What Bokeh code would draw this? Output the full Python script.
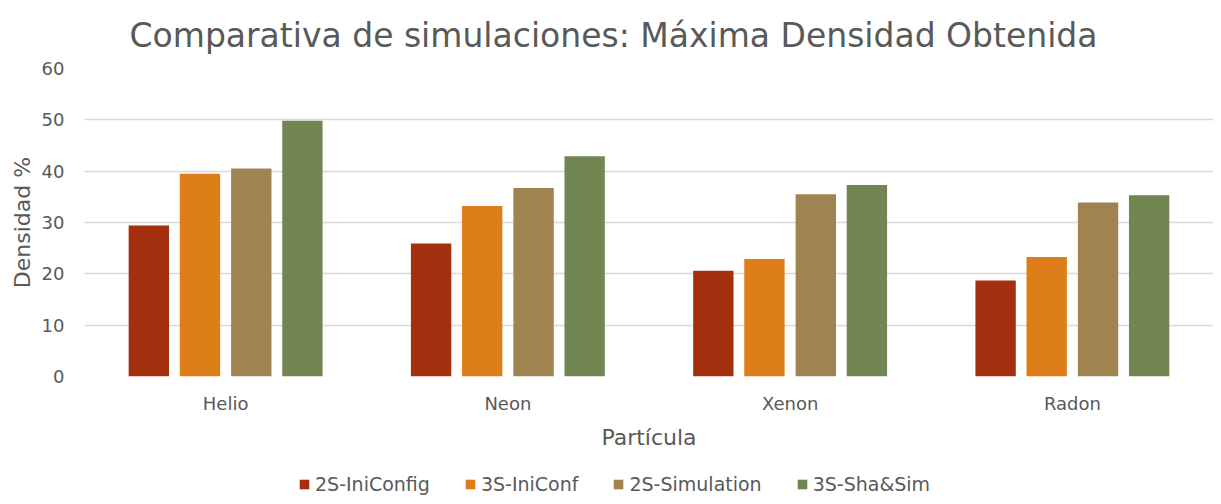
from bokeh.plotting import figure
from bokeh.models import ColumnDataSource, Legend, LegendItem
from bokeh.layouts import column
from bokeh.transform import dodge
from bokeh.embed import file_html
from bokeh.resources import INLINE

categories = ["Helio", "Neon", "Xenon", "Radon"]
series_names = ["2S-IniConfig", "3S-IniConf", "2S-Simulation", "3S-Sha&Sim"]
s_2s_iniconfig = [29.4, 25.9, 20.6, 18.7]
s_3s_iniconf = [39.5, 33.2, 22.9, 23.3]
s_2s_simulation = [40.5, 36.7, 35.5, 33.9]
s_3s_shasim = [49.8, 42.9, 37.3, 35.3]
colors = ["#A5300F", "#DE7E18", "#9F8351", "#728653"]
y_ticks = [0, 10, 20, 30, 40, 50, 60]

FONT = "DejaVu Sans"
TXT = "#595959"

src = ColumnDataSource(dict(cat=categories, a=s_2s_iniconfig, b=s_3s_iniconf,
                            c=s_2s_simulation, d=s_3s_shasim))

p = figure(width=1213, height=472, x_range=categories, y_range=(0, 60),
           output_backend="svg", toolbar_location=None,
           min_border_left=84, min_border_right=0, min_border_top=66, min_border_bottom=96)
p.outline_line_color = None
p.background_fill_color = "white"

p.title.text = "Comparativa de simulaciones: Máxima Densidad Obtenida"
p.title.align = "left"
p.title.offset = 45
p.title.text_font = FONT
p.title.text_font_size = "33px"
p.title.text_font_style = "normal"
p.title.text_color = TXT
p.title.standoff = 27

offsets = [-0.272, -0.091, 0.091, 0.272]
keys = ["a", "b", "c", "d"]
for key, off, col in zip(keys, offsets, colors):
    p.vbar(x=dodge("cat", off, range=p.x_range), top=key, width=0.143, source=src,
           fill_color=col, line_color=None)

p.xgrid.grid_line_color = None
p.ygrid.grid_line_color = "#D9D9D9"
p.ygrid.grid_line_width = 1.3
p.yaxis.ticker = y_ticks

for ax in (p.xaxis[0], p.yaxis[0]):
    ax.axis_line_color = None
    ax.major_tick_line_color = None
    ax.minor_tick_line_color = None
    ax.major_tick_out = 0
    ax.major_tick_in = 0
    ax.minor_tick_out = 0
    ax.minor_tick_in = 0
    ax.major_label_text_font = FONT
    ax.major_label_text_font_size = "18px"
    ax.major_label_text_color = TXT
    ax.axis_label_text_font = FONT
    ax.axis_label_text_font_size = "22px"
    ax.axis_label_text_font_style = "normal"
    ax.axis_label_text_color = TXT

p.yaxis.axis_label = "Densidad %"
p.yaxis.major_label_standoff = 20
p.yaxis.axis_label_standoff = 4
p.xaxis.axis_label = "Partícula"
p.xaxis.major_label_standoff = 16
p.xaxis.axis_label_standoff = 8
p.x_range.range_padding = 0

# legend in its own strip below the chart (same bars, drawn out of view)
pl = figure(width=1213, height=24, x_range=categories, y_range=(1000, 1001),
            output_backend="svg", toolbar_location=None,
            x_axis_type=None, y_axis_type=None,
            min_border_left=0, min_border_right=0, min_border_top=0, min_border_bottom=0)
pl.outline_line_color = None
pl.xgrid.grid_line_color = None
pl.ygrid.grid_line_color = None
leg_renderers = []
for key, off, col in zip(keys, offsets, colors):
    r = pl.vbar(x=dodge("cat", off, range=pl.x_range), top=key, width=0.143, source=src,
                fill_color=col, line_color=None)
    leg_renderers.append(r)

legend = Legend(items=[LegendItem(label=n, renderers=[r]) for n, r in zip(series_names, leg_renderers)],
                orientation="horizontal", location=(214, 1),
                label_text_font=FONT, label_text_font_size="19px", label_text_color=TXT,
                glyph_width=12, glyph_height=12, spacing=34, label_standoff=5,
                border_line_color=None, background_fill_alpha=0, margin=0, padding=0)
pl.add_layout(legend, "center")

layout = column(p, pl, spacing=0)
open("out.html", "w").write(file_html(layout, INLINE))
